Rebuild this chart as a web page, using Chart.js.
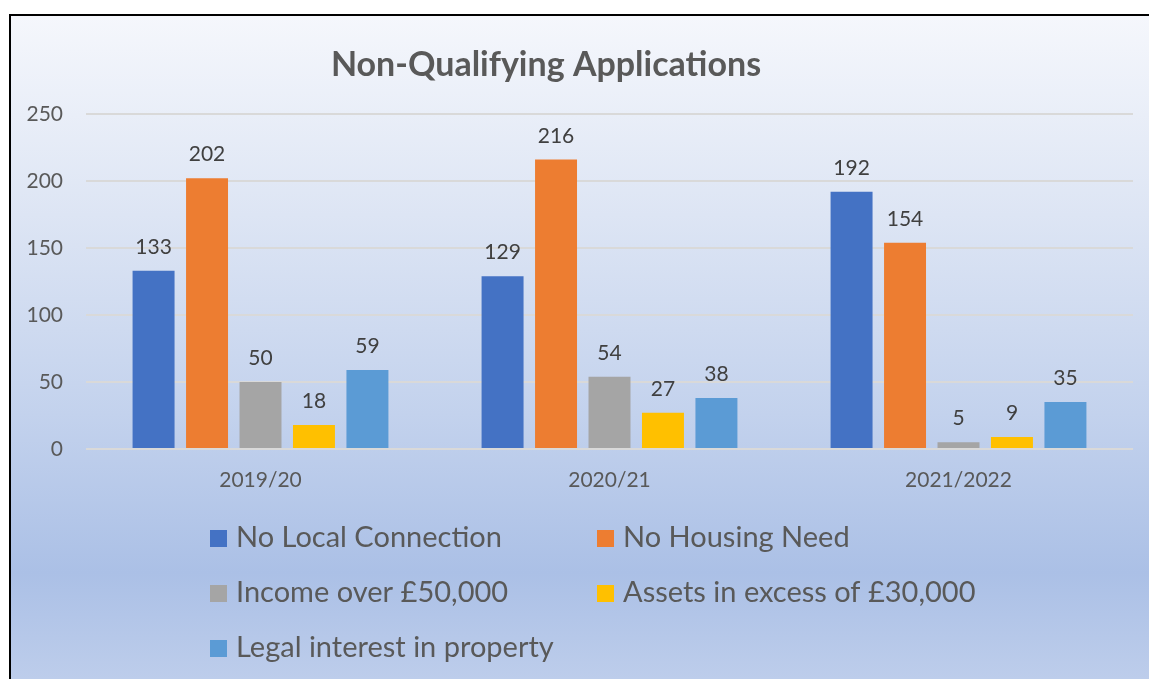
<!DOCTYPE html>
<html lang="en">
<head>
  <meta charset="UTF-8" />
  <title>Non-Qualifying Applications</title>
  <script src="https://cdn.jsdelivr.net/npm/chart.js"></script>
  <style>
    html, body { margin: 0; padding: 0; background: #fff; }
    #frame {
      position: absolute; left: 9px; top: 14px;
      width: 1138px; height: 663px;
      border-top: 2px solid #000; border-left: 2px solid #000;
      background: linear-gradient(to bottom, #f5f7fc 0%, #dde5f4 30%, #c3d2ed 60%, #abc0e6 84%, #bdcdeb 100%);
    }
    #chart { display: block; }
  </style>
</head>
<body>
  <div id="frame">
    <canvas id="chart" width="1138" height="663"></canvas>
  </div>

  <script>
    const years = ["2019/20", "2020/21", "2021/2022"];
    const seriesNames = [
      "No Local Connection",
      "No Housing Need",
      "Income over £50,000",
      "Assets in excess of £30,000",
      "Legal interest in property"
    ];
    const noLocalConnection = [133, 129, 192];
    const noHousingNeed = [202, 216, 154];
    const incomeOver50k = [50, 54, 5];
    const assetsOver30k = [18, 27, 9];
    const legalInterest = [59, 38, 35];
    const yTicks = [0, 50, 100, 150, 200, 250];

    const colors = ["#4472C4", "#ED7D31", "#A5A5A5", "#FFC000", "#5B9BD5"];
    const values = [noLocalConnection, noHousingNeed, incomeOver50k, assetsOver30k, legalInterest];
    const FONT = "Lato, 'Open Sans', sans-serif";

    // title drawn by hand, it sits left of centre in the original
    const titlePlugin = {
      id: "titleText",
      afterDraw(chart) {
        const ctx = chart.ctx;
        ctx.save();
        ctx.font = "bold 34px " + FONT;
        ctx.fillStyle = "#595959";
        ctx.textAlign = "center";
        ctx.textBaseline = "middle";
        ctx.fillText("Non-Qualifying Applications", 535, 49);
        ctx.restore();
      }
    };

    // value labels above the bars
    const valueLabels = {
      id: "valueLabels",
      afterDatasetsDraw(chart) {
        const ctx = chart.ctx;
        ctx.save();
        ctx.font = "21px " + FONT;
        ctx.fillStyle = "#404040";
        ctx.textAlign = "center";
        ctx.textBaseline = "alphabetic";
        chart.data.datasets.forEach((ds, i) => {
          chart.getDatasetMeta(i).data.forEach((bar, j) => {
            ctx.fillText(ds.data[j], bar.x, bar.y - 17);
          });
        });
        ctx.restore();
      }
    };

    // two-column legend under the axis
    const gridLegend = {
      id: "gridLegend",
      afterDraw(chart) {
        const ctx = chart.ctx;
        const colX = [199, 586];
        const rowY = [522, 577, 632];
        ctx.save();
        ctx.font = "29px " + FONT;
        ctx.textBaseline = "middle";
        ctx.textAlign = "left";
        chart.data.datasets.forEach((ds, i) => {
          const x = colX[i % 2];
          const y = rowY[Math.floor(i / 2)];
          ctx.fillStyle = ds.backgroundColor;
          ctx.fillRect(x, y - 8, 17, 17);
          ctx.fillStyle = "#595959";
          ctx.fillText(ds.label, x + 26, y);
        });
        ctx.restore();
      }
    };

    new Chart(document.getElementById("chart"), {
      type: "bar",
      data: {
        labels: years,
        datasets: seriesNames.map((name, i) => ({
          label: name,
          data: values[i],
          backgroundColor: colors[i],
          categoryPercentage: 0.766,
          barPercentage: 0.785
        }))
      },
      options: {
        responsive: false,
        animation: false,
        layout: { padding: { top: 98, right: 16, bottom: 0, left: 0 } },
        plugins: {
          legend: { display: false },
          title: { display: false },
          tooltip: { enabled: false }
        },
        scales: {
          x: {
            grid: { display: false },
            border: { display: false },
            ticks: { color: "#595959", font: { family: FONT, size: 21 }, padding: 11 },
            afterFit(scale) { scale.height = 230; }
          },
          y: {
            min: 0,
            max: 250,
            afterBuildTicks(scale) { scale.ticks = yTicks.map(v => ({ value: v })); },
            grid: { color: "#d9d9d9", lineWidth: 2, drawTicks: false },
            border: { display: false },
            ticks: { color: "#595959", font: { family: FONT, size: 21 }, padding: 23 },
            afterFit(scale) { scale.width = 75; }
          }
        }
      },
      plugins: [titlePlugin, valueLabels, gridLegend]
    });
  </script>
</body>
</html>
